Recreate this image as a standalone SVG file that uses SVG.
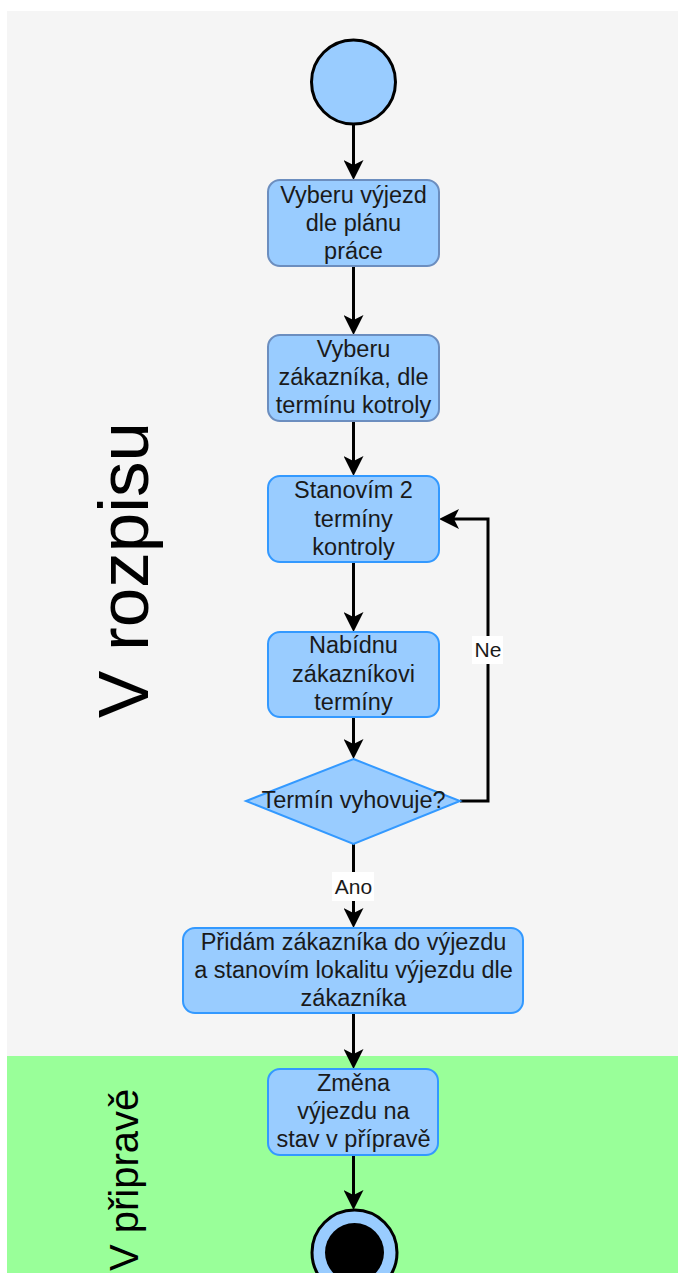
<svg xmlns="http://www.w3.org/2000/svg" width="678" height="1273" viewBox="0 0 678 1273">
  <style>
    .lbl { font-family: "Liberation Sans", Arial, sans-serif; font-size: 23.5px; fill: #1a1a1a; text-anchor: middle; }
    .edge-lbl { font-family: "Liberation Sans", Arial, sans-serif; font-size: 21px; fill: #1a1a1a; text-anchor: middle; }
    .lane-lbl { font-family: "Liberation Sans", Arial, sans-serif; fill: #000; }
    .act-a { fill: #99ccff; stroke: #6c8ebf; stroke-width: 2; }
    .act-b { fill: #99ccff; stroke: #3399ff; stroke-width: 2; }
    .conn { fill: none; stroke: #000; stroke-width: 3; }
  </style>
  <defs>
    <marker id="arrow" markerUnits="userSpaceOnUse" viewBox="0 0 20 20" refX="10" refY="10" markerWidth="20" markerHeight="20" orient="auto">
      <path d="M0,0 L20,10 L0,20 L5,10 Z" fill="#000"/>
    </marker>
  </defs>

  <rect x="0" y="0" width="678" height="1273" fill="#ffffff"/>

  <!-- swimlanes -->
  <g id="lane-rozpis">
    <rect x="7" y="11" width="671" height="1045" fill="#f5f5f5"/>
    <text class="lane-lbl" font-size="71" transform="translate(148,718) rotate(-90)">V rozpisu</text>
  </g>
  <g id="lane-priprava">
    <rect x="7" y="1056" width="671" height="217" fill="#99ff99"/>
    <text class="lane-lbl" font-size="40" transform="translate(138,1271) rotate(-90)">V připravě</text>
  </g>

  <!-- connectors -->
  <g id="connectors">
    <path class="conn" d="M353.5,124 V170" marker-end="url(#arrow)"/>
    <path class="conn" d="M353.5,266 V325" marker-end="url(#arrow)"/>
    <path class="conn" d="M353.5,421 V466" marker-end="url(#arrow)"/>
    <path class="conn" d="M353.5,562 V622" marker-end="url(#arrow)"/>
    <path class="conn" d="M353.5,717 V749" marker-end="url(#arrow)"/>
    <path class="conn" d="M353.5,844 V918" marker-end="url(#arrow)"/>
    <path class="conn" d="M460,801 H488 V519 H449" marker-end="url(#arrow)"/>
    <path class="conn" d="M353.5,1013 V1059" marker-end="url(#arrow)"/>
    <path class="conn" d="M353.5,1155 V1200" marker-end="url(#arrow)"/>
    <g id="label-ano">
      <rect x="332" y="872" width="42" height="29" fill="#ffffff"/>
      <text class="edge-lbl" x="353.5" y="894">Ano</text>
    </g>
    <g id="label-ne">
      <rect x="472" y="636" width="31" height="28" fill="#ffffff"/>
      <text class="edge-lbl" x="488" y="657">Ne</text>
    </g>
  </g>

  <!-- nodes -->
  <g id="start">
    <circle cx="353.5" cy="82" r="42" fill="#99ccff" stroke="#000" stroke-width="3"/>
  </g>

  <g id="vyber-vyjezd">
    <rect class="act-a" x="268" y="180" width="171" height="86" rx="12"/>
    <text class="lbl" x="353.5" y="202.5">Vyberu výjezd</text>
    <text class="lbl" x="353.5" y="231">dle plánu</text>
    <text class="lbl" x="353.5" y="259">práce</text>
  </g>

  <g id="vyber-zakaznika">
    <rect class="act-a" x="268" y="335" width="171" height="86" rx="12"/>
    <text class="lbl" x="353.5" y="357">Vyberu</text>
    <text class="lbl" x="353.5" y="385">zákazníka, dle</text>
    <text class="lbl" x="353.5" y="413">termínu kotroly</text>
  </g>

  <g id="stanovim-terminy">
    <rect class="act-b" x="268" y="476" width="171" height="86" rx="12"/>
    <text class="lbl" x="353.5" y="498">Stanovím 2</text>
    <text class="lbl" x="353.5" y="527">termíny</text>
    <text class="lbl" x="353.5" y="555">kontroly</text>
  </g>

  <g id="nabidnu-terminy">
    <rect class="act-b" x="268" y="632" width="171" height="85" rx="12"/>
    <text class="lbl" x="353.5" y="653">Nabídnu</text>
    <text class="lbl" x="353.5" y="682">zákazníkovi</text>
    <text class="lbl" x="353.5" y="710">termíny</text>
  </g>

  <g id="termin-vyhovuje">
    <polygon class="act-b" points="353.5,759 460,801 353.5,844 246,801"/>
    <text class="lbl" x="353.5" y="808">Termín vyhovuje?</text>
  </g>

  <g id="pridam-zakaznika">
    <rect class="act-b" x="183" y="928" width="340" height="85" rx="12"/>
    <text class="lbl" x="353.5" y="950">Přidám zákazníka do výjezdu</text>
    <text class="lbl" x="353.5" y="978">a stanovím lokalitu výjezdu dle</text>
    <text class="lbl" x="353.5" y="1006">zákazníka</text>
  </g>

  <g id="zmena-stavu">
    <rect class="act-b" x="268" y="1069" width="170" height="86" rx="12"/>
    <text class="lbl" x="353.5" y="1091">Změna</text>
    <text class="lbl" x="353.5" y="1119">výjezdu na</text>
    <text class="lbl" x="353.5" y="1147">stav v přípravě</text>
  </g>

  <g id="end">
    <circle cx="354.5" cy="1252.5" r="42.5" fill="#99ccff" stroke="#000" stroke-width="3"/>
    <circle cx="354.5" cy="1252.5" r="29.5" fill="#000"/>
  </g>
</svg>
